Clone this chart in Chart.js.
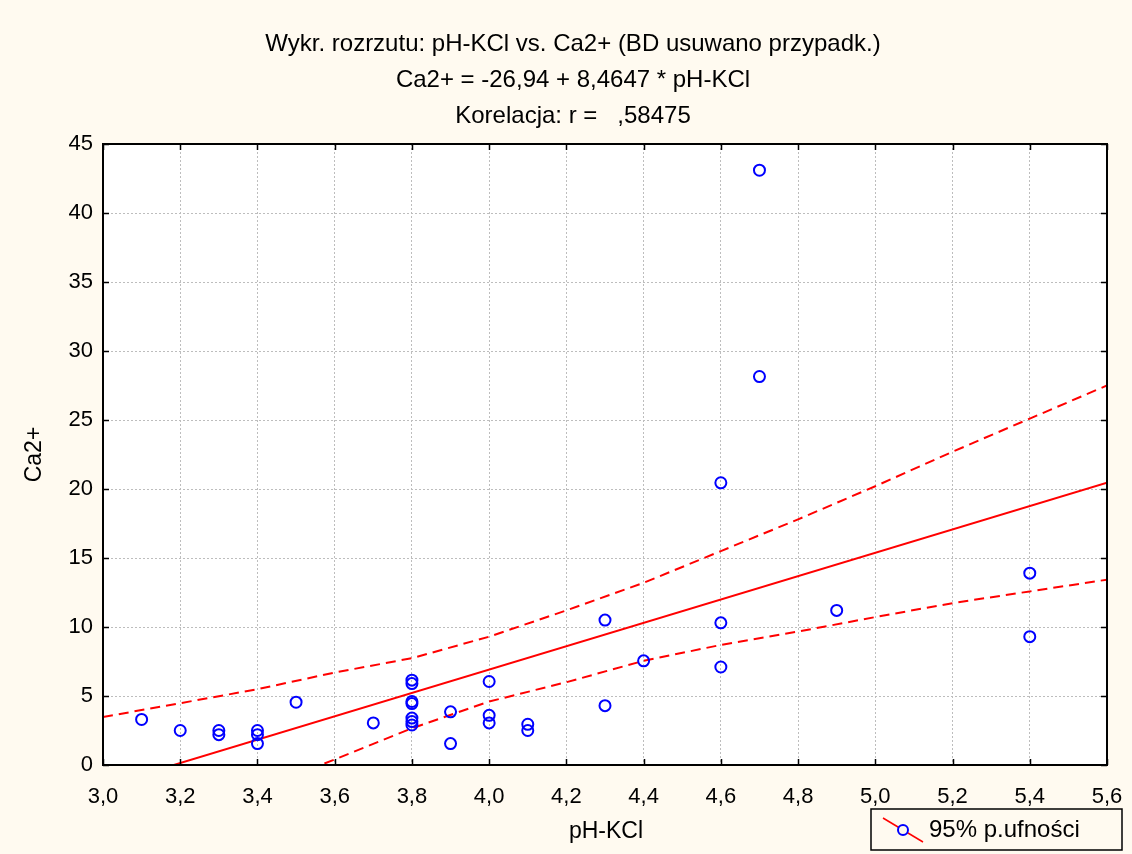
<!DOCTYPE html>
<html>
<head>
<meta charset="utf-8">
<script src="https://cdn.jsdelivr.net/npm/chart.js@4.4.1/dist/chart.umd.min.js"></script>
<style>
body{margin:0;background:#fffaf0;}
#wrap{width:1132px;height:854px;}
</style>
</head>
<body>
<div id="wrap"><canvas id="myChart" width="1132" height="854"></canvas></div>
<script>
// dane
var phKCl = [3.1, 3.2, 3.3, 3.3, 3.4, 3.4, 3.4, 3.5, 3.7,
             3.8, 3.8, 3.8, 3.8, 3.8, 3.8, 3.8, 3.9, 3.9,
             4.0, 4.0, 4.0, 4.1, 4.1, 4.3, 4.3, 4.4,
             4.6, 4.6, 4.6, 4.7, 4.7, 4.9, 5.4, 5.4];
var ca2 = [3.3, 2.5, 2.5, 2.2, 2.5, 2.2, 1.55, 4.55, 3.05,
           6.15, 5.9, 4.6, 4.45, 3.4, 3.15, 2.9, 3.85, 1.55,
           6.05, 3.6, 3.05, 2.95, 2.5, 10.5, 4.3, 7.55,
           20.45, 10.3, 7.1, 43.1, 28.15, 11.2, 13.9, 9.3];

// linia regresji (koncowki)
var regX = [3.0, 5.6];
var regY = [-1.55, 20.46];

// pasy ufnosci 95%
var pasX = [3.0, 3.2, 3.4, 3.6, 3.8, 4.0, 4.2, 4.4, 4.6, 4.8, 5.0, 5.2, 5.4, 5.6];
var pasGorny = [3.48, 4.48, 5.49, 6.7, 7.74, 9.3, 11.2, 13.2, 15.5, 17.8, 20.2, 22.7, 25.1, 27.5];
var pasDolny = [-6.6, -4.2, -1.8, 0.4, 2.66, 4.6, 6.0, 7.55, 8.7, 9.67, 10.72, 11.73, 12.58, 13.43];

var tytuly = ['Wykr. rozrzutu: pH-KCl vs. Ca2+ (BD usuwano przypadk.)',
              'Ca2+ = -26,94 + 8,4647 * pH-KCl',
              'Korelacja: r =   ,58475'];
var tytulX = 'pH-KCl';
var tytulY = 'Ca2+';
var legendaTekst = '95% p.ufności';

var FONT = '"Liberation Sans", Arial, sans-serif';

function pary(xs, ys){
    let out = [];
    for(let i=0;i<xs.length;i++){
        out.push({x: xs[i], y: ys[i]});
    }
    return out;
}

const tlo = {
    id: 'tlo',
    beforeDraw(chart){
        const ctx = chart.ctx;
        const a = chart.chartArea;
        ctx.save();
        ctx.fillStyle = '#fffaf0';
        ctx.fillRect(0, 0, chart.width, chart.height);
        ctx.fillStyle = '#ffffff';
        ctx.fillRect(a.left, a.top, a.right - a.left, a.bottom - a.top);
        ctx.restore();
    }
};

const ramka = {
    id: 'ramka',
    afterDraw(chart){
        const ctx = chart.ctx;
        const a = chart.chartArea;
        const sx = chart.scales.x;
        const sy = chart.scales.y;
        ctx.save();
        ctx.strokeStyle = '#000';
        ctx.lineWidth = 1.5;
        // kreski podzialki do wewnatrz
        sx.ticks.forEach(t => {
            let px = Math.round(sx.getPixelForValue(t.value)) + 0.5;
            ctx.beginPath();
            ctx.moveTo(px, a.bottom); ctx.lineTo(px, a.bottom - 6);
            ctx.moveTo(px, a.top); ctx.lineTo(px, a.top + 6);
            ctx.stroke();
        });
        sy.ticks.forEach(t => {
            let py = Math.round(sy.getPixelForValue(t.value)) + 0.5;
            ctx.beginPath();
            ctx.moveTo(a.left, py); ctx.lineTo(a.left + 6, py);
            ctx.moveTo(a.right, py); ctx.lineTo(a.right - 6, py);
            ctx.stroke();
        });
        ctx.lineWidth = 2;
        ctx.strokeRect(a.left, a.top, a.right - a.left, a.bottom - a.top);

        // tytuly
        ctx.fillStyle = '#000';
        ctx.textAlign = 'center';
        ctx.textBaseline = 'middle';
        ctx.font = '24px ' + FONT;
        tytuly.forEach((t, i) => ctx.fillText(t, 573, 44 + i * 36));

        const cx = (a.left + a.right) / 2;
        ctx.font = '23px ' + FONT;
        ctx.fillText(tytulX, cx + 1, 832);
        ctx.save();
        ctx.translate(35, (a.top + a.bottom) / 2);
        ctx.rotate(-Math.PI / 2);
        ctx.fillText(tytulY, 0, 0);
        ctx.restore();

        // legenda
        ctx.lineWidth = 1.5;
        ctx.strokeStyle = '#000';
        ctx.strokeRect(871, 809, 251, 41);
        ctx.strokeStyle = '#ff0000';
        ctx.lineWidth = 1.5;
        ctx.beginPath();
        ctx.moveTo(883, 818); ctx.lineTo(923, 842);
        ctx.stroke();
        ctx.beginPath();
        ctx.arc(903, 830, 5, 0, Math.PI * 2);
        ctx.fillStyle = '#fffaf0';
        ctx.fill();
        ctx.strokeStyle = '#0000ff';
        ctx.lineWidth = 2;
        ctx.stroke();
        ctx.fillStyle = '#000';
        ctx.textAlign = 'left';
        ctx.font = '24px ' + FONT;
        ctx.fillText(legendaTekst, 929, 830);
        ctx.restore();
    }
};

const ctx = document.getElementById('myChart');
const myChartRozrzut = new Chart(ctx, {
    type: 'scatter',
    data: {
        datasets: [{
            label: 'Ca2+',
            data: pary(phKCl, ca2),
            pointStyle: 'circle',
            pointRadius: 5.5,
            pointBorderWidth: 2,
            borderColor: '#0000ff',
            backgroundColor: 'transparent',
            pointHoverRadius: 5.5,
            order: 0
        },{
            label: 'regresja',
            data: pary(regX, regY),
            showLine: true,
            borderColor: '#ff0000',
            borderWidth: 2,
            pointRadius: 0,
            clip: 0,
            order: 1
        },{
            label: 'gorny',
            data: pary(pasX, pasGorny),
            showLine: true,
            borderColor: '#ff0000',
            borderWidth: 2,
            borderDash: [10, 6],
            pointRadius: 0,
            clip: 0,
            order: 1
        },{
            label: 'dolny',
            data: pary(pasX, pasDolny),
            showLine: true,
            borderColor: '#ff0000',
            borderWidth: 2,
            borderDash: [10, 6],
            pointRadius: 0,
            clip: 0,
            order: 1
        }]
    },
    options: {
        responsive: false,
        animation: false,
        devicePixelRatio: 1,
        layout: {
            padding: {left: 0, right: 25, top: 144, bottom: 0}
        },
        plugins: {
            legend: {display: false},
            title: {display: false},
            tooltip: {enabled: false}
        },
        scales: {
            x: {
                type: 'linear',
                min: 3.0,
                max: 5.6,
                afterFit: function(scale){
                    scale.height = 89;
                    scale.paddingLeft = 0;
                    scale.paddingRight = 0;
                },
                border: {display: false, dash: [2, 2]},
                grid: {
                    color: '#bdbdbd',
                    lineWidth: 1,
                    drawTicks: false
                },
                ticks: {
                    stepSize: 0.2,
                    padding: 19,
                    color: '#000',
                    font: {family: FONT, size: 22},
                    maxRotation: 0,
                    callback: function(v){ return Number(v).toFixed(1).replace('.', ','); }
                }
            },
            y: {
                type: 'linear',
                min: 0,
                max: 45,
                afterFit: function(scale){
                    scale.width = 103;
                    scale.paddingTop = 0;
                    scale.paddingBottom = 0;
                },
                border: {display: false, dash: [2, 2]},
                grid: {
                    color: '#bdbdbd',
                    lineWidth: 1,
                    drawTicks: false
                },
                ticks: {
                    stepSize: 5,
                    padding: 10,
                    color: '#000',
                    font: {family: FONT, size: 22},
                    callback: function(v){ return v; }
                }
            }
        }
    },
    plugins: [tlo, ramka]
});
</script>
</body>
</html>
